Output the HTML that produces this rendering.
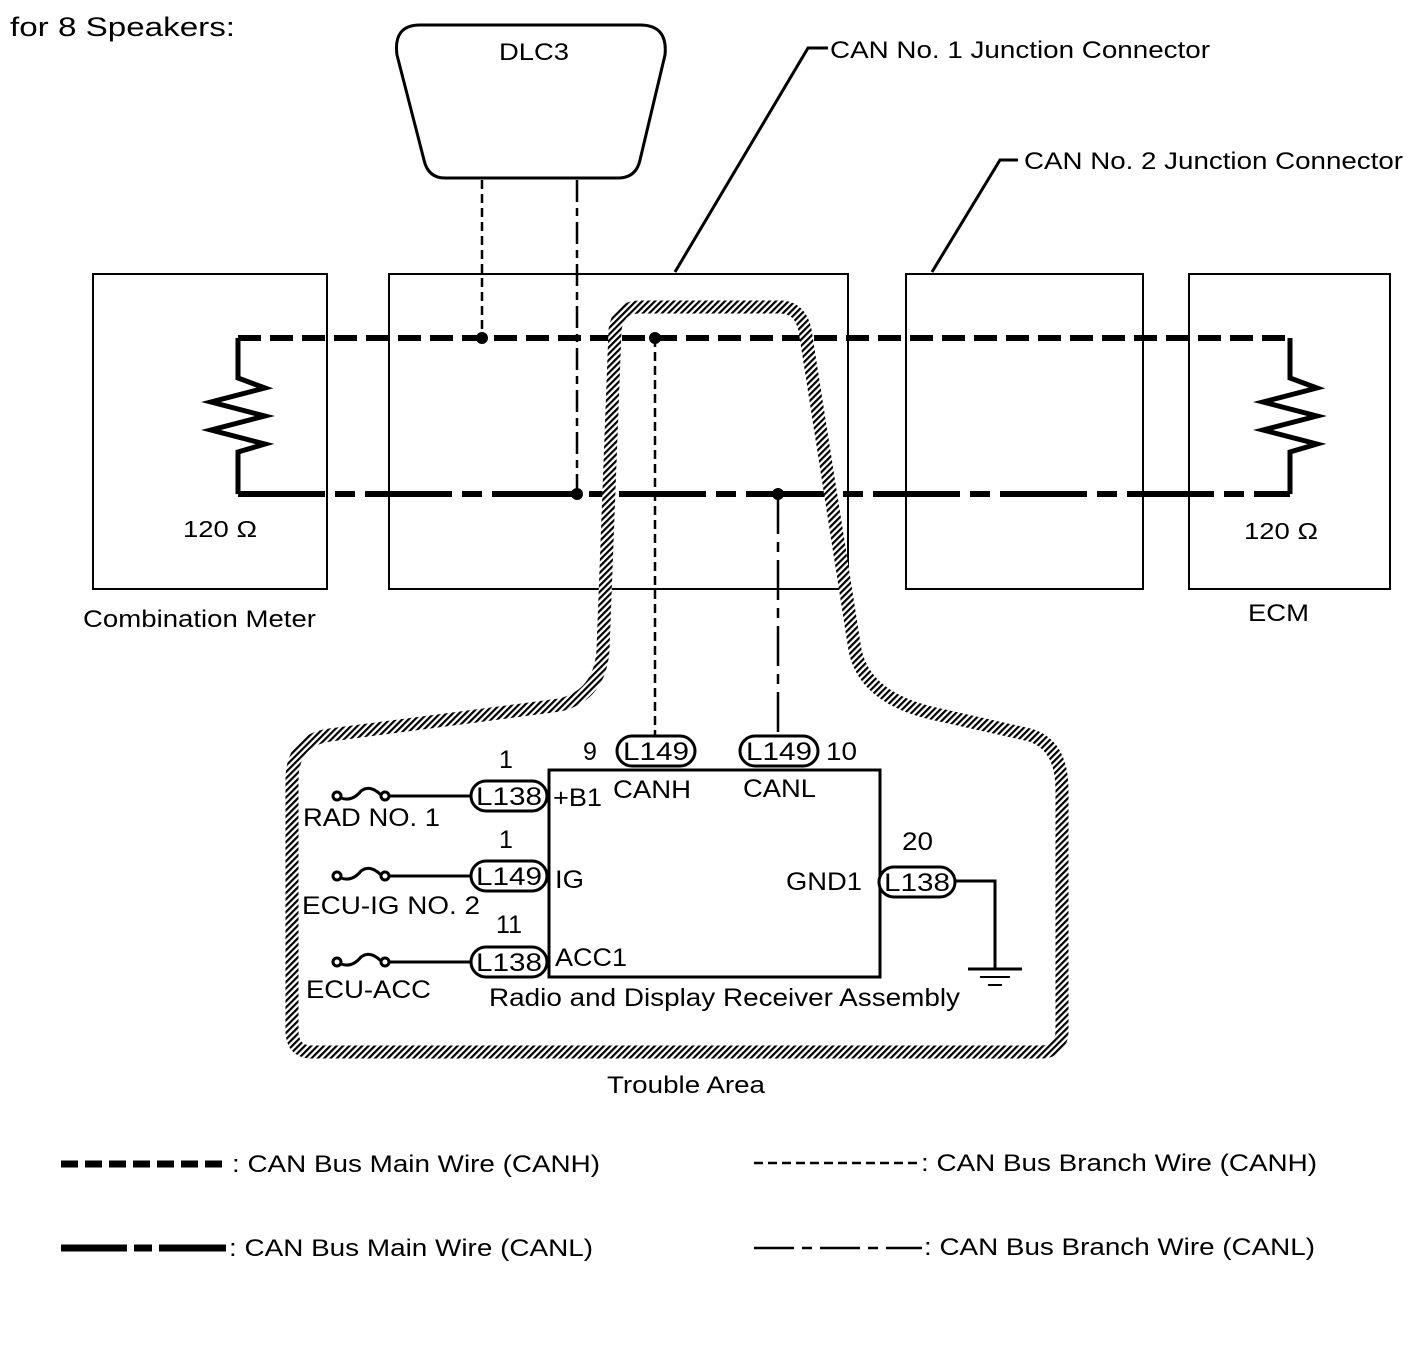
<!DOCTYPE html>
<html><head><meta charset="utf-8"><style>
html,body{margin:0;padding:0;background:#fff;}
svg{display:block;}
text{font-family:"Liberation Sans",Arial,sans-serif;fill:#000;}
</style></head><body>
<svg width="1421" height="1358" viewBox="0 0 1421 1358" xmlns="http://www.w3.org/2000/svg">
<defs>
<pattern id="h" width="4.5" height="4.5" patternUnits="userSpaceOnUse" patternTransform="rotate(45)">
<rect width="4.5" height="4.5" fill="#fff"/><rect width="2.2" height="4.5" fill="#000"/>
</pattern>
</defs>
<g lengthAdjust="spacingAndGlyphs">
<text x="10" y="36" font-size="27" textLength="225" lengthAdjust="spacingAndGlyphs">for 8 Speakers:</text>
</g>

<!-- boxes -->
<g fill="none" stroke="#000" stroke-width="2">
<rect x="93" y="274" width="234" height="315"/>
<rect x="389" y="274" width="459" height="315"/>
<rect x="906" y="274" width="237" height="315"/>
<rect x="1189" y="274" width="201" height="315"/>
<polyline points="675,272 808,48 828,48" stroke-width="3"/>
<polyline points="932,272 1000,160 1018,160" stroke-width="3"/>
</g>
<text x="830" y="58" font-size="24" textLength="380" lengthAdjust="spacingAndGlyphs">CAN No. 1 Junction Connector</text>
<text x="1024" y="169" font-size="24" textLength="379" lengthAdjust="spacingAndGlyphs">CAN No. 2 Junction Connector</text>

<!-- DLC3 -->
<path d="M420,25 L640,25 Q668,25 665,55 L640,160 Q636,178 618,178 L445,178 Q428,178 424,160 L397,55 Q393,25 420,25 Z" fill="#fff" stroke="#000" stroke-width="3"/>
<text x="499" y="60" font-size="24" textLength="70" lengthAdjust="spacingAndGlyphs">DLC3</text>

<!-- branch wires -->
<line x1="482" y1="180" x2="482" y2="338" stroke="#000" stroke-width="2.5" stroke-dasharray="9,5"/>
<line x1="577" y1="180" x2="577" y2="494" stroke="#000" stroke-width="2.5" stroke-dasharray="22,6,8,6"/>
<line x1="655" y1="338" x2="655" y2="738" stroke="#000" stroke-width="2.5" stroke-dasharray="9,5"/>
<line x1="778" y1="494" x2="778" y2="738" stroke="#000" stroke-width="2.5" stroke-dasharray="40,8,10,8"/>

<!-- main wires -->
<line x1="238" y1="338" x2="1290" y2="338" stroke="#000" stroke-width="6" stroke-dasharray="23,9"/>
<line x1="238" y1="494" x2="1290" y2="494" stroke="#000" stroke-width="6" stroke-dasharray="87,10,20,10"/>
<g fill="none" stroke="#000" stroke-width="5">
<polyline points="238,338 238,378 265,388 211,402 265,416 211,430 265,444 238,452 238,494"/>
<polyline points="1290,338 1290,378 1317,388 1263,402 1317,416 1263,430 1317,444 1290,452 1290,494"/>
</g>
<g fill="#000">
<circle cx="482" cy="338" r="6"/><circle cx="655" cy="338" r="6"/>
<circle cx="577" cy="494" r="6"/><circle cx="778" cy="494" r="6"/>
</g>
<text x="183" y="537" font-size="23" textLength="74" lengthAdjust="spacingAndGlyphs">120 Ω</text>
<text x="1244" y="539" font-size="23" textLength="74" lengthAdjust="spacingAndGlyphs">120 Ω</text>
<text x="83" y="627" font-size="24" textLength="233" lengthAdjust="spacingAndGlyphs">Combination Meter</text>
<text x="1248" y="621" font-size="24" textLength="61" lengthAdjust="spacingAndGlyphs">ECM</text>

<!-- trouble area -->
<path d="M292,1030 L292,780 Q292,740 330,735 L560,705 Q600,695 603,650 L615,330 Q618,307 640,307 L780,307 Q800,307 805,330 L855,650 Q865,700 940,715 L1030,735 Q1062,745 1062,790 L1062,1030 Q1062,1052 1040,1052 L312,1052 Q292,1052 292,1030 Z" fill="none" stroke="url(#h)" stroke-width="13"/>
<text x="607" y="1093" font-size="24" textLength="158" lengthAdjust="spacingAndGlyphs">Trouble Area</text>

<!-- radio box -->
<rect x="549" y="770" width="331" height="207" fill="none" stroke="#000" stroke-width="3"/>
<g fill="#fff" stroke="#000" stroke-width="3">
<rect x="617" y="736" width="78" height="30" rx="15"/>
<rect x="740" y="736" width="78" height="30" rx="15"/>
<rect x="471" y="781" width="76" height="30" rx="15"/>
<rect x="471" y="861" width="76" height="30" rx="15"/>
<rect x="471" y="947" width="76" height="30" rx="15"/>
<rect x="879" y="867" width="76" height="30" rx="15"/>
</g>
<g font-size="25">
<text x="623" y="760" textLength="66" lengthAdjust="spacingAndGlyphs">L149</text>
<text x="746" y="760" textLength="66" lengthAdjust="spacingAndGlyphs">L149</text>
<text x="476" y="805" textLength="66" lengthAdjust="spacingAndGlyphs">L138</text>
<text x="476" y="885" textLength="66" lengthAdjust="spacingAndGlyphs">L149</text>
<text x="476" y="971" textLength="66" lengthAdjust="spacingAndGlyphs">L138</text>
<text x="884" y="891" textLength="66" lengthAdjust="spacingAndGlyphs">L138</text>
<text x="583" y="760">9</text>
<text x="826" y="760" textLength="31" lengthAdjust="spacingAndGlyphs">10</text>
<text x="499" y="768">1</text>
<text x="499" y="848">1</text>
<text x="496" y="933" textLength="26" lengthAdjust="spacingAndGlyphs">11</text>
<text x="902" y="850" textLength="31" lengthAdjust="spacingAndGlyphs">20</text>
<text x="553" y="806" textLength="49" lengthAdjust="spacingAndGlyphs">+B1</text>
<text x="613" y="798" textLength="78" lengthAdjust="spacingAndGlyphs">CANH</text>
<text x="743" y="797" textLength="73" lengthAdjust="spacingAndGlyphs">CANL</text>
<text x="555" y="888" textLength="29" lengthAdjust="spacingAndGlyphs">IG</text>
<text x="786" y="890" textLength="76" lengthAdjust="spacingAndGlyphs">GND1</text>
<text x="555" y="966" textLength="72" lengthAdjust="spacingAndGlyphs">ACC1</text>
<text x="489" y="1006" textLength="471" lengthAdjust="spacingAndGlyphs">Radio and Display Receiver Assembly</text>
<text x="303" y="826" textLength="137" lengthAdjust="spacingAndGlyphs">RAD NO. 1</text>
<text x="302" y="914" textLength="178" lengthAdjust="spacingAndGlyphs">ECU-IG NO. 2</text>
<text x="306" y="998" textLength="125" lengthAdjust="spacingAndGlyphs">ECU-ACC</text>
</g>
<!-- fuses -->
<g fill="none" stroke="#000" stroke-width="3">
<circle cx="337" cy="796" r="4"/><circle cx="385" cy="796" r="4"/>
<path d="M341,798 Q352,802 361,791 Q370,784 381,795"/><line x1="389" y1="796" x2="471" y2="796"/>
<circle cx="337" cy="876" r="4"/><circle cx="385" cy="876" r="4"/>
<path d="M341,878 Q352,882 361,871 Q370,864 381,875"/><line x1="389" y1="876" x2="471" y2="876"/>
<circle cx="337" cy="962" r="4"/><circle cx="385" cy="962" r="4"/>
<path d="M341,964 Q352,968 361,957 Q370,950 381,961"/><line x1="389" y1="962" x2="471" y2="962"/>
<polyline points="955,881 995,881 995,968"/>
<line x1="968" y1="969" x2="1022" y2="969"/>
<line x1="980" y1="977" x2="1010" y2="977" stroke-width="2"/>
<line x1="988" y1="985" x2="1002" y2="985" stroke-width="2"/>
</g>

<!-- legend -->
<line x1="61" y1="1164" x2="228" y2="1164" stroke="#000" stroke-width="7" stroke-dasharray="17,7"/>
<text x="232" y="1172" font-size="24" textLength="368" lengthAdjust="spacingAndGlyphs">: CAN Bus Main Wire (CANH)</text>
<line x1="61" y1="1248" x2="226" y2="1248" stroke="#000" stroke-width="7" stroke-dasharray="66,7,18,7,68"/>
<text x="229" y="1256" font-size="24" textLength="364" lengthAdjust="spacingAndGlyphs">: CAN Bus Main Wire (CANL)</text>
<line x1="754" y1="1163" x2="918" y2="1163" stroke="#000" stroke-width="2.5" stroke-dasharray="9,5"/>
<text x="921" y="1171" font-size="24" textLength="396" lengthAdjust="spacingAndGlyphs">: CAN Bus Branch Wire (CANH)</text>
<line x1="754" y1="1248" x2="922" y2="1248" stroke="#000" stroke-width="2.5" stroke-dasharray="40,8,10,8"/>
<text x="924" y="1255" font-size="24" textLength="391" lengthAdjust="spacingAndGlyphs">: CAN Bus Branch Wire (CANL)</text>
</svg>
</body></html>
